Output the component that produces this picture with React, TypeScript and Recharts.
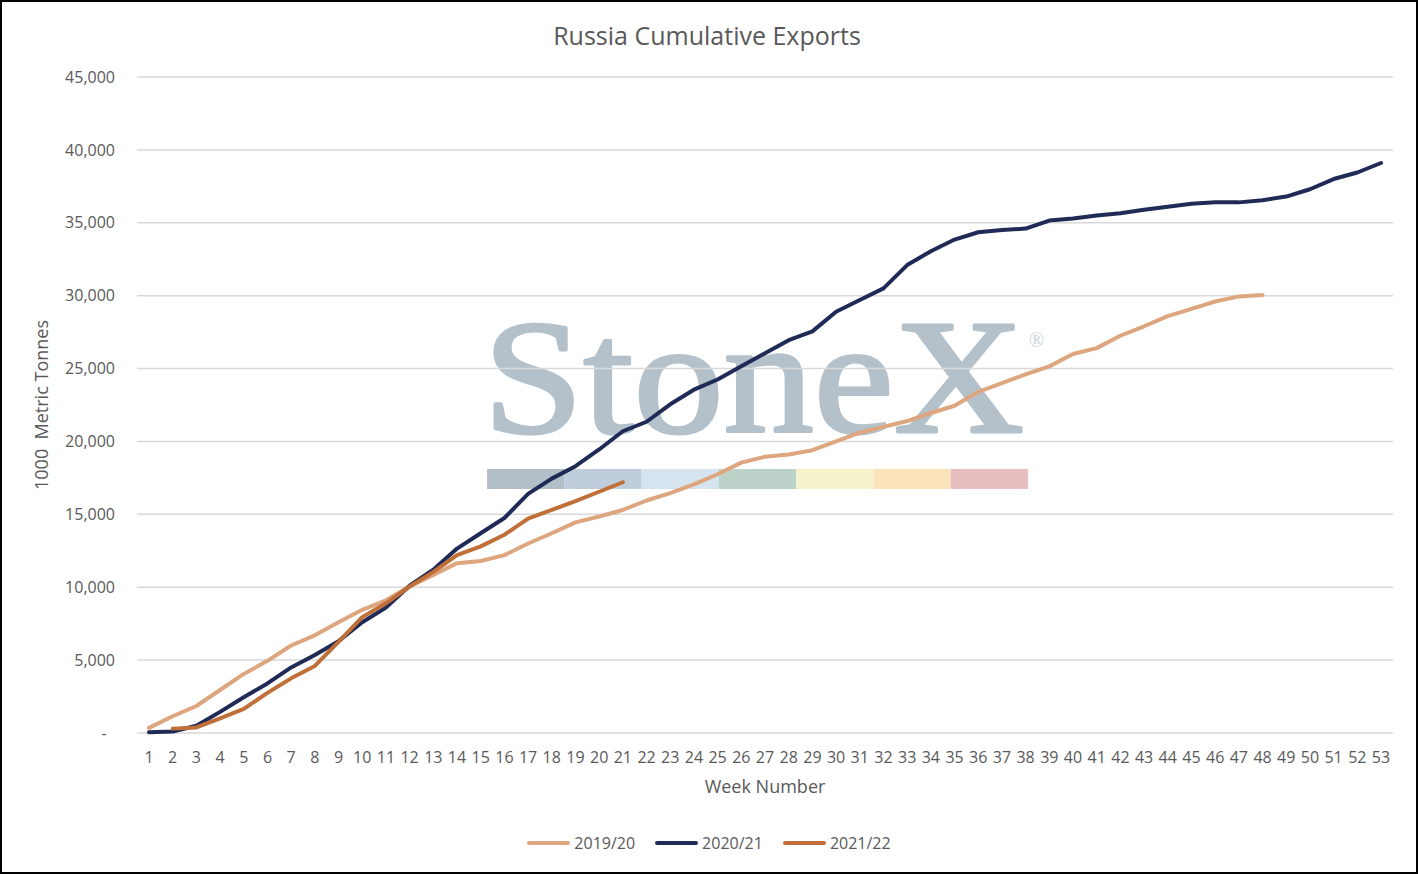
import React from 'react';
import { LineChart, Line, XAxis, YAxis, CartesianGrid, Legend, Label } from 'recharts';

// week numbers on the category axis
const weeks = [
  '1', '2', '3', '4', '5', '6', '7', '8', '9', '10', '11', '12', '13', '14', '15', '16', '17', '18',
  '19', '20', '21', '22', '23', '24', '25', '26', '27', '28', '29', '30', '31', '32', '33', '34', '35',
  '36', '37', '38', '39', '40', '41', '42', '43', '44', '45', '46', '47', '48', '49', '50', '51', '52', '53',
];

// cumulative exports, 1000 metric tonnes
const exports1920 = [
  350, 1150, 1850, 2950, 4050, 4950, 6000, 6700, 7600, 8450, 9100, 10050, 10850, 11650, 11800, 12200,
  13000, 13700, 14450, 14850, 15300, 15950, 16450, 17050, 17750, 18550, 18950, 19100, 19400, 20000,
  20600, 21000, 21400, 21950, 22450, 23400, 24000, 24600, 25150, 26000, 26400, 27250, 27900, 28600,
  29100, 29600, 29950, 30050,
];

const exports2021 = [
  50, 100, 500, 1450, 2450, 3400, 4500, 5350, 6300, 7600, 8600, 10100, 11200, 12650, 13700, 14750,
  16400, 17450, 18300, 19450, 20700, 21350, 22550, 23550, 24250, 25150, 26050, 26950, 27550, 28900,
  29700, 30500, 32100, 33050, 33850, 34350, 34500, 34600, 35150, 35300, 35500, 35650, 35900, 36100,
  36300, 36400, 36400, 36550, 36800, 37300, 38000, 38450, 39100,
];

const exports2122 = [
  null, 300, 380, 1000, 1650, 2750, 3750, 4600, 6250, 7950, 8900, 10050, 11050, 12200, 12800, 13600,
  14700, 15300, 15900, 16550, 17200,
];

const yTicks = [0, 5000, 10000, 15000, 20000, 25000, 30000, 35000, 40000, 45000];

const data = weeks.map((week, i) => ({
  week,
  s1920: exports1920[i] ?? null,
  s2021: exports2021[i] ?? null,
  s2122: exports2122[i] ?? null,
}));

const textColor = '#595959';
const font = '"Open Sans", sans-serif';

const formatY = (v: number) => (v === 0 ? '-\u00A0\u00A0' : v.toLocaleString('en-US'));

const YAxisTitle = (props: any) => {
  const { viewBox } = props;
  const cx = viewBox.x + 41;
  const cy = viewBox.y + viewBox.height / 2;
  return (
    <text
      x={cx}
      y={cy}
      transform={`rotate(-90 ${cx} ${cy})`}
      textAnchor="middle"
      dominantBaseline="central"
      fill={textColor}
      fontSize={18}
      style={{ whiteSpace: 'pre' }}
    >
      1000  Metric Tonnes
    </text>
  );
};

const renderLegend = (props: any) => (
  <div style={{ display: 'flex', justifyContent: 'center', alignItems: 'center', height: 24 }}>
    {(props.payload || []).map((entry: any) => (
      <div key={entry.value} style={{ display: 'flex', alignItems: 'center', margin: '0 10px' }}>
        <span
          style={{ display: 'inline-block', width: 43, height: 4, borderRadius: 2, background: entry.color, marginRight: 4 }}
        />
        <span style={{ color: textColor, fontSize: 16, fontFamily: font }}>{entry.value}</span>
      </div>
    ))}
  </div>
);

// faint company logo sitting behind the plot
const logoColors = ['#b2bfc8', '#bfcddd', '#d6e4ef', '#bdd3c9', '#f6f2cb', '#fce4ba', '#e8bfc0'];

const Watermark = () => (
  <svg width={1418} height={874} style={{ position: 'absolute', left: 0, top: 0 }}>
    <text
      transform="translate(483 432) scale(1.1 1)"
      fontFamily='"Liberation Serif", "DejaVu Serif", serif'
      fontSize={164}
      fill="#b4c1ca"
      stroke="#b4c1ca"
      strokeWidth={3}
      strokeLinejoin="round"
    >
      StoneX
    </text>
    <text x={1029} y={347} fontFamily='"Liberation Serif", serif' fontSize={20} fill="#c9d2d9">
      ®
    </text>
    {logoColors.map((c, i) => (
      <rect key={c} x={487 + i * 77.3} y={469} width={77.3} height={20} fill={c} />
    ))}
  </svg>
);

export default function App() {
  return (
    <div
      style={{
        position: 'absolute',
        left: 0,
        top: 0,
        width: 1418,
        height: 874,
        background: '#fff',
        fontFamily: font,
        overflow: 'hidden',
      }}
    >
      <Watermark />
      <div
        style={{
          position: 'absolute',
          left: 0,
          top: 19,
          width: 1414,
          textAlign: 'center',
          fontSize: 25,
          lineHeight: '32px',
          color: textColor,
        }}
      >
        Russia Cumulative Exports
      </div>
      <div style={{ position: 'absolute', left: 0, top: 0 }}>
        <LineChart width={1418} height={874} data={data} margin={{ top: 77, right: 25, bottom: 19, left: 0 }}>
          <CartesianGrid vertical={false} stroke="#d9d9d9" strokeWidth={1.5} />
          <XAxis
            dataKey="week"
            interval={0}
            padding={{ left: 12, right: 12 }}
            axisLine={false}
            tickLine={false}
            tickSize={0}
            tickMargin={19}
            height={98}
            tick={{ fill: textColor, fontSize: 16, fontFamily: font }}
          >
            <Label value="Week Number" position="insideTop" offset={47} fill={textColor} fontSize={18} fontFamily={font} />
          </XAxis>
          <YAxis
            domain={[0, 45000]}
            ticks={yTicks}
            width={137}
            axisLine={false}
            tickLine={false}
            tickSize={0}
            tickMargin={22}
            tickFormatter={formatY}
            tick={{ fill: textColor, fontSize: 16, fontFamily: font }}
          >
            <Label content={<YAxisTitle />} />
          </YAxis>
          <Legend verticalAlign="bottom" content={renderLegend} wrapperStyle={{ left: 0, width: 1418 }} />
          <Line
            name="2019/20"
            dataKey="s1920"
            stroke="#dda67f"
            strokeWidth={4}
            dot={false}
            activeDot={false}
            strokeLinejoin="round"
            strokeLinecap="round"
            isAnimationActive={false}
          />
          <Line
            name="2020/21"
            dataKey="s2021"
            stroke="#1f2a56"
            strokeWidth={4}
            dot={false}
            activeDot={false}
            strokeLinejoin="round"
            strokeLinecap="round"
            isAnimationActive={false}
          />
          <Line
            name="2021/22"
            dataKey="s2122"
            stroke="#bf6f37"
            strokeWidth={4}
            dot={false}
            activeDot={false}
            strokeLinejoin="round"
            strokeLinecap="round"
            isAnimationActive={false}
          />
        </LineChart>
      </div>
      <div
        style={{
          position: 'absolute',
          left: 0,
          top: 0,
          width: 1418,
          height: 874,
          boxSizing: 'border-box',
          border: '2px solid #000',
          pointerEvents: 'none',
        }}
      />
    </div>
  );
}
